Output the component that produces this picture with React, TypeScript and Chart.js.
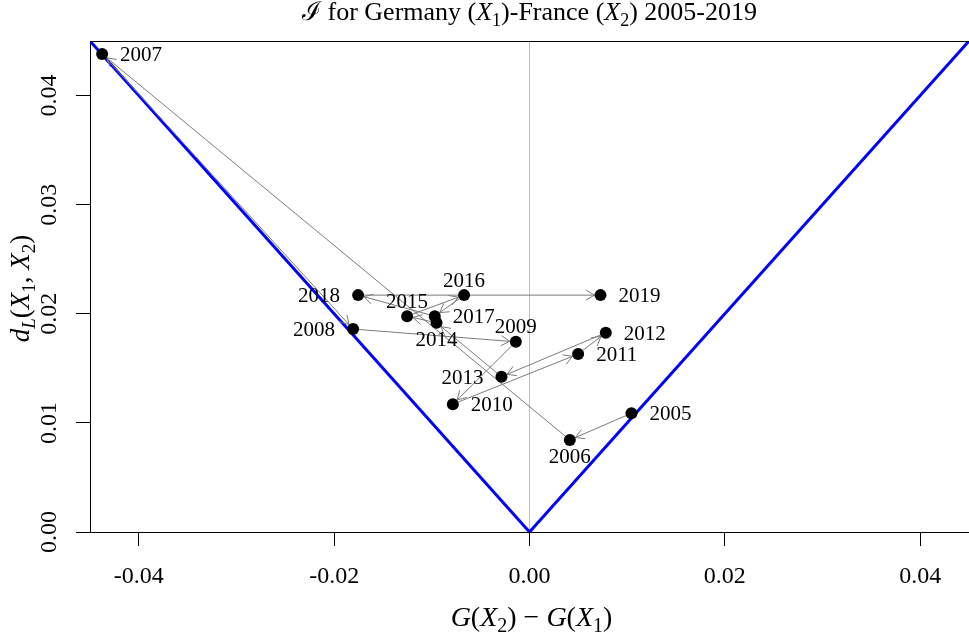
import React, { useEffect, useRef } from 'react';
import { Chart, registerables } from 'chart.js';

Chart.register(...registerables);

// ---- data ----
const years = ['2005', '2006', '2007', '2008', '2009', '2010', '2011', '2012', '2013', '2014', '2015', '2016', '2017', '2018', '2019'];
// G(X2) - G(X1)
const giniGap = [0.01044, 0.00413, -0.04376, -0.01806, -0.0014, -0.00785, 0.00498, 0.00781, -0.00287, -0.00952, -0.01253, -0.0067, -0.0097, -0.01755, 0.00727];
// d_L(X1, X2)
const lorenzDist = [0.01088, 0.00844, 0.04381, 0.0186, 0.01743, 0.01171, 0.01631, 0.01826, 0.01423, 0.01917, 0.01978, 0.02171, 0.01978, 0.02171, 0.02171];
// where each year label sits relative to its point
const labelSide = ['right', 'below', 'right', 'left', 'above', 'right', 'right', 'right', 'left', 'below', 'above', 'above', 'right', 'left', 'right'];
const xTicks = [-0.04, -0.02, 0, 0.02, 0.04];
const yTicks = [0, 0.01, 0.02, 0.03, 0.04];
const xRange = [-0.045, 0.045];
const yRange = [0, 0.045];

const FONT = "'Liberation Serif', 'DejaVu Serif', serif";

type Seg = { t: string; i?: boolean; s?: boolean };

const titleSegs: Seg[] = [
  { t: '\u2110' }, { t: ' for Germany (' }, { t: 'X', i: true }, { t: '1', s: true },
  { t: ')-France (' }, { t: 'X', i: true }, { t: '2', s: true }, { t: ') 2005-2019' },
];
const xLabelSegs: Seg[] = [
  { t: 'G', i: true }, { t: '(' }, { t: 'X', i: true }, { t: '2', s: true }, { t: ') \u2212 ' },
  { t: 'G', i: true }, { t: '(' }, { t: 'X', i: true }, { t: '1', s: true }, { t: ')' },
];
const yLabelSegs: Seg[] = [
  { t: 'd', i: true }, { t: 'L', i: true, s: true }, { t: '(' }, { t: 'X', i: true }, { t: '1', s: true },
  { t: ', ' }, { t: 'X', i: true }, { t: '2', s: true }, { t: ')' },
];

function drawRich(ctx: CanvasRenderingContext2D, segs: Seg[], x: number, y: number, size: number, rot = 0) {
  ctx.save();
  ctx.translate(x, y);
  ctx.rotate(rot);
  const fontOf = (sg: Seg) => `${sg.i ? 'italic ' : ''}${sg.s ? Math.round(size * 0.7) : size}px ${FONT}`;
  let total = 0;
  const widths = segs.map((sg) => {
    ctx.font = fontOf(sg);
    const w = ctx.measureText(sg.t).width;
    total += w;
    return w;
  });
  let cx = -total / 2;
  ctx.fillStyle = '#000';
  ctx.textAlign = 'left';
  ctx.textBaseline = 'alphabetic';
  segs.forEach((sg, k) => {
    ctx.font = fontOf(sg);
    ctx.fillText(sg.t, cx, sg.s ? size * 0.22 : 0);
    cx += widths[k];
  });
  ctx.restore();
}

function drawArrow(ctx: CanvasRenderingContext2D, x0: number, y0: number, x1: number, y1: number) {
  const shrink = 6;
  const head = 10;
  const dx = x1 - x0;
  const dy = y1 - y0;
  const L = Math.hypot(dx, dy);
  if (L < 2 * shrink + 1) return;
  const ux = dx / L;
  const uy = dy / L;
  const sx = x0 + ux * shrink;
  const sy = y0 + uy * shrink;
  const ex = x1 - ux * shrink;
  const ey = y1 - uy * shrink;
  const ang = Math.atan2(dy, dx);
  const a = Math.PI / 6;
  ctx.beginPath();
  ctx.moveTo(sx, sy);
  ctx.lineTo(ex, ey);
  ctx.moveTo(ex - head * Math.cos(ang - a), ey - head * Math.sin(ang - a));
  ctx.lineTo(ex, ey);
  ctx.lineTo(ex - head * Math.cos(ang + a), ey - head * Math.sin(ang + a));
  ctx.stroke();
}

const decorPlugin = {
  id: 'decor',
  afterDatasetDraw(chart: any, args: any) {
    if (args.index !== 1) return;
    const { ctx, scales, chartArea } = chart;
    ctx.save();
    ctx.beginPath();
    ctx.rect(chartArea.left, chartArea.top, chartArea.right - chartArea.left, chartArea.bottom - chartArea.top);
    ctx.clip();
    ctx.strokeStyle = '#7a7a7a';
    ctx.lineWidth = 1;
    for (let i = 0; i < years.length - 1; i++) {
      drawArrow(
        ctx,
        scales.x.getPixelForValue(giniGap[i]), scales.y.getPixelForValue(lorenzDist[i]),
        scales.x.getPixelForValue(giniGap[i + 1]), scales.y.getPixelForValue(lorenzDist[i + 1])
      );
    }
    ctx.restore();
  },
  afterDatasetsDraw(chart: any) {
    const { ctx, scales, chartArea } = chart;
    ctx.save();
    // point labels
    ctx.fillStyle = '#000';
    ctx.font = `21px ${FONT}`;
    ctx.textBaseline = 'alphabetic';
    years.forEach((yr, i) => {
      const px = scales.x.getPixelForValue(giniGap[i]);
      const py = scales.y.getPixelForValue(lorenzDist[i]);
      const side = labelSide[i];
      if (side === 'right') {
        ctx.textAlign = 'left';
        ctx.fillText(yr, px + 18, py + 7);
      } else if (side === 'left') {
        ctx.textAlign = 'right';
        ctx.fillText(yr, px - 18, py + 7);
      } else if (side === 'above') {
        ctx.textAlign = 'center';
        ctx.fillText(yr, px, py - 8.5);
      } else {
        ctx.textAlign = 'center';
        ctx.fillText(yr, px, py + 23);
      }
    });
    // top frame line
    ctx.strokeStyle = '#000';
    ctx.lineWidth = 1;
    ctx.beginPath();
    ctx.moveTo(chartArea.left, chartArea.top + 0.5);
    ctx.lineTo(chartArea.right, chartArea.top + 0.5);
    ctx.stroke();
    ctx.restore();
    const midX = (chartArea.left + chartArea.right) / 2;
    drawRich(ctx, titleSegs, midX, 20, 26);
    drawRich(ctx, xLabelSegs, midX + 2, 626, 28);
    drawRich(ctx, yLabelSegs, 29, (chartArea.top + chartArea.bottom) / 2 + 2, 27, -Math.PI / 2);
  },
};

export default function App() {
  const ref = useRef<HTMLCanvasElement | null>(null);
  useEffect(() => {
    if (!ref.current) return;
    const points = giniGap.map((x, i) => ({ x, y: lorenzDist[i] }));
    const vLine = [
      { x: xRange[0], y: Math.abs(xRange[0]) },
      { x: 0, y: 0 },
      { x: xRange[1], y: Math.abs(xRange[1]) },
    ];
    const zeroLine = [
      { x: 0, y: yRange[0] },
      { x: 0, y: yRange[1] },
    ];
    const chart = new Chart(ref.current, {
      type: 'scatter',
      data: {
        datasets: [
          {
            data: points,
            pointRadius: 6,
            pointBackgroundColor: '#000',
            pointBorderWidth: 0,
            showLine: false,
          },
          {
            data: vLine,
            showLine: true,
            borderColor: '#0000ff',
            borderWidth: 3,
            pointRadius: 0,
          },
          {
            data: zeroLine,
            showLine: true,
            borderColor: '#bebebe',
            borderWidth: 1,
            pointRadius: 0,
          },
        ],
      } as any,
      options: {
        animation: false,
        responsive: false,
        devicePixelRatio: 1,
        layout: { autoPadding: false, padding: { top: 41, left: 0, right: 0, bottom: 0 } },
        plugins: { legend: { display: false }, tooltip: { enabled: false }, title: { display: false } },
        scales: {
          x: {
            type: 'linear',
            min: xRange[0],
            max: xRange[1],
            afterBuildTicks: (s: any) => {
              s.ticks = xTicks.map((v) => ({ value: v }));
            },
            afterFit: (s: any) => {
              s.height = 109;
            },
            grid: { drawOnChartArea: false, drawTicks: true, tickLength: 14, color: '#000', lineWidth: 1 },
            border: { display: true, color: '#000', width: 1 },
            ticks: {
              color: '#000',
              font: { family: FONT, size: 24 },
              padding: 16,
              maxRotation: 0,
              minRotation: 0,
              callback: (v: any) => Number(v).toFixed(2),
            },
          },
          y: {
            type: 'linear',
            min: yRange[0],
            max: yRange[1],
            afterBuildTicks: (s: any) => {
              s.ticks = yTicks.map((v) => ({ value: v }));
            },
            afterFit: (s: any) => {
              s.width = 90;
            },
            grid: { drawOnChartArea: false, drawTicks: true, tickLength: 14, color: '#000', lineWidth: 1 },
            border: { display: true, color: '#000', width: 1 },
            ticks: {
              color: '#000',
              font: { family: FONT, size: 24 },
              padding: 5,
              minRotation: 90,
              maxRotation: 90,
              crossAlign: 'center',
              callback: (v: any) => Number(v).toFixed(2),
            },
          },
        },
      } as any,
      plugins: [decorPlugin],
    });
    return () => chart.destroy();
  }, []);
  return (
    <div style={{ position: 'absolute', left: 0, top: 0, width: 969, height: 641, background: '#fff' }}>
      <canvas ref={ref} width={969} height={641} />
    </div>
  );
}
